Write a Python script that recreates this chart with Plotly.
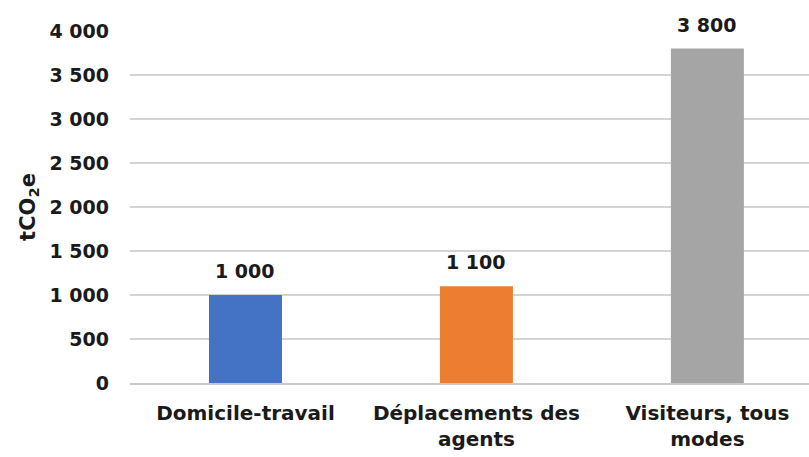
import plotly.graph_objects as go

# Emissions by travel category (tCO2e)
categories = ["Domicile-travail", "Déplacements des<br>agents", "Visiteurs, tous<br>modes"]
values = [1000, 1100, 3800]
bar_colors = ["#4472C4", "#ED7D31", "#A5A5A5"]
tick_vals = [0, 500, 1000, 1500, 2000, 2500, 3000, 3500, 4000]
tick_text = ["0", "500", "1 000", "1 500", "2 000", "2 500", "3 000", "3 500", "4 000"]
value_labels = [f"{v:,}".replace(",", " ") for v in values]

FONT = "DejaVu Sans"
INK = "#1a1a1a"

fig = go.Figure(
    go.Bar(
        x=categories,
        y=values,
        marker=dict(color=bar_colors, line=dict(width=0)),
        width=0.316,
        hoverinfo="x+y",
    )
)

# value labels sitting above each bar
for cat, val, lab in zip(categories, values, value_labels):
    fig.add_annotation(
        x=cat,
        y=val,
        text=lab,
        showarrow=False,
        yanchor="bottom",
        yshift=11,
        font=dict(family=FONT, size=19, color=INK, weight="bold"),
    )

fig.update_layout(
    width=809,
    height=457,
    margin=dict(l=130, r=0, t=31, b=74),
    paper_bgcolor="white",
    plot_bgcolor="white",
    showlegend=False,
    font=dict(family=FONT, size=17, color=INK),
    xaxis=dict(
        range=[-0.5, 2.44],
        showgrid=False,
        showline=True,
        linecolor="#c8c8c8",
        linewidth=1.5,
        ticks="",
        tickfont=dict(family=FONT, size=20, color=INK, weight="bold"),
        ticklabelstandoff=11,
    ),
    yaxis=dict(
        range=[0, 4000],
        tickvals=tick_vals,
        ticktext=tick_text,
        showgrid=True,
        gridcolor="#d4d4d4",
        gridwidth=1.5,
        zeroline=False,
        ticks="",
        ticklabelstandoff=20,
        tickfont=dict(family=FONT, size=19, color=INK, weight="bold"),
        title=dict(
            text="tCO<sub>2</sub>e",
            font=dict(family=FONT, size=21, color=INK, weight="bold"),
            standoff=8,
        ),
    ),
)

fig.write_html("out.html")
